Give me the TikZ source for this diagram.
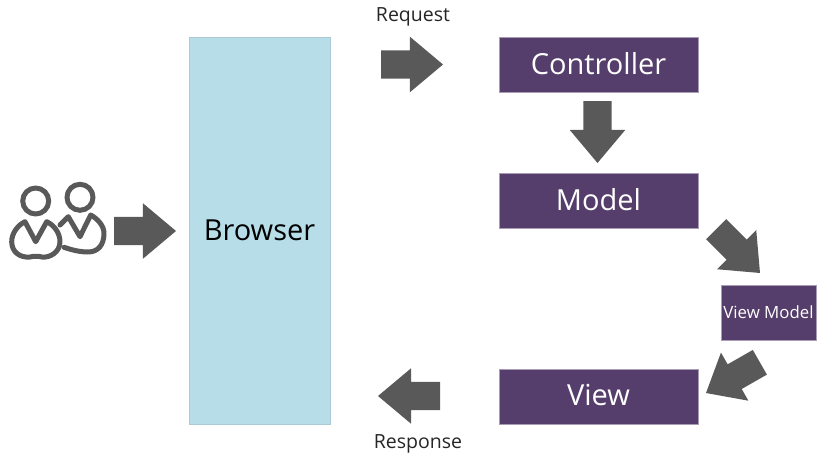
\documentclass[tikz,border=0pt]{standalone}
\usepackage{fontspec}
\setmainfont{Open Sans}
\usetikzlibrary{shapes.arrows}
\definecolor{boxpurple}{HTML}{553E6B}
\definecolor{boxedge}{HTML}{A99DB6}
\definecolor{browserblue}{HTML}{B7DDE8}
\definecolor{arrowgray}{HTML}{595959}
\tikzset{
    box/.style={draw=boxedge, line width=0.5pt, fill=boxpurple, text=white, inner sep=0pt, outer sep=0pt,
        minimum width=199pt, minimum height=55pt, text depth=2.5pt, font=\fontsize{29}{34}\selectfont},
    bigarrow/.style={single arrow, fill=arrowgray, inner xsep=0pt, inner ysep=14pt, outer sep=0pt,
        minimum height=62pt, single arrow head extend=13.5pt, single arrow tip angle=80, anchor=tip},
    caption/.style={font=\fontsize{19.5}{23}\selectfont, text=black!85},
    person/.style={draw=arrowgray, line width=5pt, line join=round, line cap=round}
}
\begin{document}
\begin{tikzpicture}[x=1pt,y=-1pt]
    \useasboundingbox (0,0) rectangle (827,460);

    % Browser
    \node[draw=browserblue!80!gray, line width=0.4pt, fill=browserblue, minimum width=141pt, minimum height=387pt,
        inner sep=0pt, outer sep=0pt, font=\fontsize{29}{34}\selectfont] (browser) at (259.5,230.5) {Browser};

    % Boxes on the right
    \node[box] (controller) at (598.5,64.5) {Controller};
    \node[box] (model) at (598.5,200.5) {Model};
    \node[box, minimum width=95pt, text depth=0pt, font=\fontsize{16.8}{20}\selectfont] (viewmodel) at (768.5,312.5) {View Model};
    \node[box] (view) at (598.5,396.5) {View};

    % Block arrows, placed by their tips
    \node[bigarrow] (arrowuser) at (176,231) {};
    \node[bigarrow] (arrowrequest) at (443,64.5) {};
    \node[bigarrow, rotate=-90] (arrowcontroller) at (597.5,163) {};
    \node[bigarrow, rotate=-45] (arrowmodel) at (760,273) {};
    \node[bigarrow, rotate=209.7] (arrowviewmodel) at (706,393) {};
    \node[bigarrow, rotate=180] (arrowresponse) at (378,396) {};

    % Labels
    \node[caption] (request) at (413,17) {Request};
    \node[caption] (response) at (418,444) {Response};

    % Left person
    \draw[person] (35.7,201) circle (13);
    \draw[person] (25,221.7) -- (35.7,241.7) -- (46.7,221.7)
        .. controls (54,225) and (60,233) .. (60,241.7)
        .. controls (60,252) and (50,258) .. (42,257)
        .. controls (38,256) and (34,256) .. (30,257)
        .. controls (20,258) and (11.7,252) .. (11.7,241.7)
        .. controls (11.7,233) and (18,225) .. (25,221.7);

    % Right person
    \draw[person] (80,197.3) circle (13);
    \draw[person] (60,225) -- (68.3,216.7) -- (80,236.7) -- (90.7,215)
        .. controls (98,219) and (104,226) .. (104,233.3)
        .. controls (104,245) and (98,252) .. (88,252)
        .. controls (80,252) and (72,250) .. (64,247.3);
\end{tikzpicture}
\end{document}
